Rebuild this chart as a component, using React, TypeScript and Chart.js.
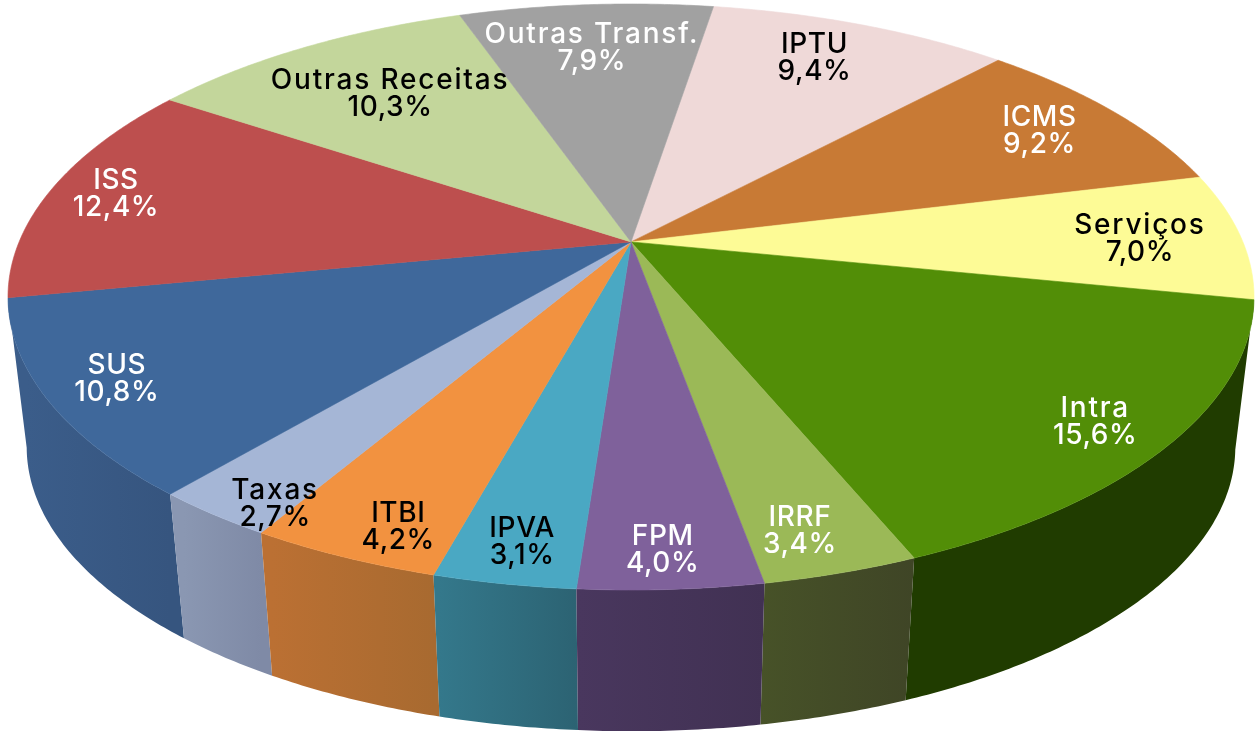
import { useEffect, useRef } from "react";
import { Chart, registerables } from "chart.js";

Chart.register(...registerables);

const categories = ["IPTU", "ICMS", "Serviços", "Intra", "IRRF", "FPM", "IPVA", "ITBI", "Taxas", "SUS", "ISS", "Outras Receitas", "Outras Transf."];
const shares = [9.4, 9.2, 7.0, 15.6, 3.4, 4.0, 3.1, 4.2, 2.7, 10.8, 12.4, 10.3, 7.9];
const topColors = ["#efd9d8", "#c87a35", "#fdfb96", "#528e07", "#9bb957", "#7f619b", "#4aa8c3", "#f29240", "#a5b6d6", "#3f689b", "#bd4f4e", "#c3d69b", "#a1a1a1"];
const wallLeftColors = ["#a09090", "#86521f", "#a9a764", "#203c00", "#475228", "#49375e", "#34788b", "#bb7033", "#8a97b2", "#3b5d8a", "#7e3534", "#828f68", "#6b6b6b"];
const wallRightColors = ["#a09090", "#86521f", "#a9a764", "#203c00", "#3f4526", "#413153", "#2c6373", "#a86a30", "#7f8aa6", "#36557f", "#7e3534", "#828f68", "#6b6b6b"];
const labelColors = ["#000", "#fff", "#000", "#fff", "#fff", "#fff", "#000", "#000", "#000", "#fff", "#fff", "#000", "#fff"];
const labelRadius = [0.821, 0.839, 0.834, 0.882, 0.886, 0.901, 0.895, 0.902, 0.93, 0.888, 0.889, 0.73, 0.8];
const labelShiftDeg = [-1.5, -0.3, 0.3, 0.3, 1.2, 0.3, -0.2, -2.1, -3.1, 0.6, 0.4, 1, -0.25];

const ROTATION_DEG = 9.2;
const view = { cx: 631, cy: 297, a: 623, b: 293, tilt: -0.188, wallScale: 0.97, wallCy: 447 };
const FONT = '500 28px Inter, "Noto Sans", sans-serif';

function project(theta: number, r: number) {
  const u = r * Math.sin(theta);
  const v = -r * Math.cos(theta);
  const d = 1 + view.tilt * v;
  const s = Math.sqrt(1 - view.tilt * view.tilt);
  return { x: view.cx + (view.a * u * s) / d, y: view.cy + (view.b * (v + view.tilt)) / d };
}

function lower(p: { x: number; y: number }) {
  return { x: view.cx + view.wallScale * (p.x - view.cx), y: view.wallCy + view.wallScale * (p.y - view.cy) };
}

function rimPoints(start: number, end: number) {
  const n = Math.max(4, Math.ceil(((end - start) / (2 * Math.PI)) * 720));
  const pts = [];
  for (let i = 0; i <= n; i++) pts.push(project(start + ((end - start) * i) / n, 1));
  return pts;
}

const pie3d = {
  id: "pie3d",
  beforeDatasetsDraw(chart: any) {
    const ctx = chart.ctx;
    const arcs = chart.getDatasetMeta(0).data;
    const slices = arcs.map((arc: any, i: number) => ({
      i,
      start: arc.startAngle + Math.PI / 2,
      end: arc.endAngle + Math.PI / 2,
    }));
    const front = slices
      .filter((s: any) => Math.cos((s.start + s.end) / 2) < -0.1)
      .sort((p: any, q: any) => Math.cos((q.start + q.end) / 2) - Math.cos((p.start + p.end) / 2));
    for (const s of front) {
      const top = rimPoints(s.start, s.end);
      const bottom = top.map(lower).reverse();
      const first = top[0];
      const last = bottom[0];
      const g = ctx.createLinearGradient(Math.min(first.x, last.x), 0, Math.max(first.x, last.x), 0);
      g.addColorStop(0, wallLeftColors[s.i]);
      g.addColorStop(1, wallRightColors[s.i]);
      ctx.beginPath();
      [...top, ...bottom].forEach((p: any, k: number) => (k ? ctx.lineTo(p.x, p.y) : ctx.moveTo(p.x, p.y)));
      ctx.closePath();
      ctx.fillStyle = g;
      ctx.fill();
    }
    for (const s of slices) {
      const apex = project(0, 0);
      ctx.beginPath();
      ctx.moveTo(apex.x, apex.y);
      rimPoints(s.start, s.end).forEach((p: any) => ctx.lineTo(p.x, p.y));
      ctx.closePath();
      ctx.fillStyle = topColors[s.i];
      ctx.strokeStyle = topColors[s.i];
      ctx.lineWidth = 0.6;
      ctx.fill();
      ctx.stroke();
    }
    ctx.font = FONT;
    ctx.textAlign = "center";
    ctx.textBaseline = "middle";
    for (const s of slices) {
      const p = project((s.start + s.end) / 2 + (labelShiftDeg[s.i] * Math.PI) / 180, labelRadius[s.i]);
      const name = categories[s.i];
      ctx.fillStyle = labelColors[s.i];
      ctx.letterSpacing = /[a-z]/.test(name) ? "1.8px" : "0.6px";
      ctx.fillText(name, p.x, p.y - 12);
      ctx.letterSpacing = "0.6px";
      ctx.fillText(shares[s.i].toFixed(1).replace(".", ",") + "%", p.x, p.y + 15);
    }
    ctx.letterSpacing = "0px";
    return false;
  },
};

export default function App() {
  const ref = useRef<HTMLCanvasElement>(null);
  useEffect(() => {
    document.body.style.margin = "0";
    document.body.style.background = "#fff";
    const chart = new Chart(ref.current as HTMLCanvasElement, {
      type: "pie",
      data: {
        labels: categories,
        datasets: [{ data: shares, backgroundColor: topColors, borderWidth: 0 }],
      },
      options: {
        animation: false,
        responsive: false,
        rotation: ROTATION_DEG,
        plugins: { legend: { display: false }, tooltip: { enabled: false } },
      },
      plugins: [pie3d],
    } as any);
    return () => chart.destroy();
  }, []);
  return <canvas ref={ref} width={1257} height={731} style={{ display: "block" }} />;
}
